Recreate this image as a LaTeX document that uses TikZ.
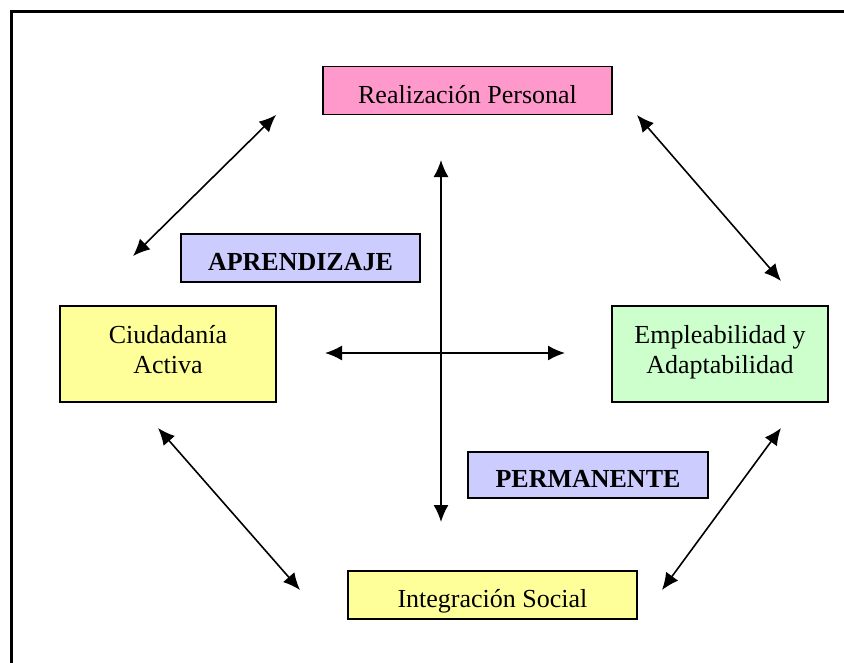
\documentclass[tikz,border=0pt]{standalone}
\usepackage{fontspec}
\setmainfont{Liberation Serif}
\usetikzlibrary{arrows.meta}
\definecolor{rosa}{RGB}{255,153,204}
\definecolor{lila}{RGB}{204,204,255}
\definecolor{amarillo}{RGB}{255,255,153}
\definecolor{verde}{RGB}{204,255,204}

\begin{document}
\begin{tikzpicture}[x=1pt,y=-1pt,
  caja/.style={draw,line width=1.2pt,minimum height=48pt,inner sep=0pt,
    text height=25pt,text depth=0pt,font=\fontsize{26}{31}\selectfont},
  cajab/.style={caja,font=\fontsize{26}{31}\selectfont\bfseries},
  cajados/.style={draw,line width=1.2pt,minimum width=216pt,minimum height=96pt,
    inner sep=0pt,align=center,text height=38pt,text depth=0pt,
    font=\fontsize{26}{30}\selectfont},
  flecha/.style={{Latex[length=17pt,width=15pt]}-{Latex[length=17pt,width=15pt]},line width=1.6pt}]

  % page and frame
  \useasboundingbox (0,0) rectangle (844,662);
  \clip (0,0) rectangle (844,662);
  \fill[white] (0,0) rectangle (844,662);
  \draw[line width=3pt] (11,11) rectangle (900,720);

  % boxes
  \node[caja,fill=rosa,minimum width=289pt] (realiz) at (467.5,90.5) {Realización Personal};
  \node[cajab,fill=lila,minimum width=239pt] (aprend) at (300.5,258) {APRENDIZAJE};
  \node[cajados,fill=amarillo] (ciudad) at (168,354) {Ciudadanía\\Activa};
  \node[cajados,fill=verde] (emple) at (720,354) {Empleabilidad y\\Adaptabilidad};
  \node[cajab,fill=lila,minimum width=240pt,minimum height=46pt] (perman) at (588,475) {PERMANENTE};
  \node[caja,fill=amarillo,minimum width=289pt] (integ) at (492.5,595) {Integración Social};

  % arrow ends
  \coordinate (rp-izq) at (276,115);
  \coordinate (ca-arr) at (133,256);
  \coordinate (rp-der) at (637,115);
  \coordinate (ea-arr) at (781,281);
  \coordinate (ca-aba) at (158,428);
  \coordinate (is-izq) at (300,590);
  \coordinate (ea-aba) at (781,428);
  \coordinate (is-der) at (662,590);
  \coordinate (cruz-n) at (441,160);
  \coordinate (cruz-s) at (441,522);
  \coordinate (cruz-o) at (325,353);
  \coordinate (cruz-e) at (565,353);

  % arrows
  \draw[flecha] (rp-izq) -- (ca-arr);
  \draw[flecha] (rp-der) -- (ea-arr);
  \draw[flecha] (ca-aba) -- (is-izq);
  \draw[flecha] (ea-aba) -- (is-der);
  \draw[flecha] (cruz-n) -- (cruz-s);
  \draw[flecha] (cruz-o) -- (cruz-e);

\end{tikzpicture}
\end{document}
